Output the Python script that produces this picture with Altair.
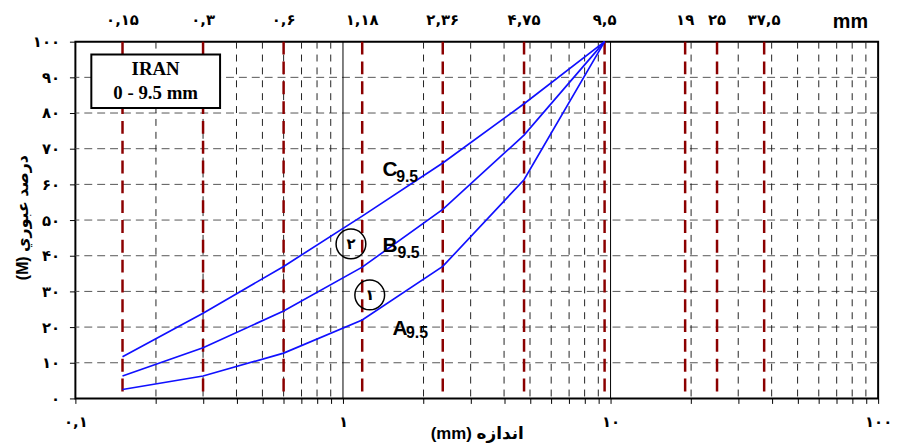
import altair as alt
import pandas as pd

# ---- data ----
sieves = [0.15, 0.3, 0.6, 1.18, 2.36, 4.75, 9.5]
pass_a = [2.5, 6.3, 12.7, 22.0, 37.0, 61.3, 100]
pass_b = [6.3, 14.2, 24.5, 36.8, 53.0, 73.8, 100]
pass_c = [11.7, 23.9, 37.0, 51.1, 66.0, 82.6, 100]

sieve_lines = [0.15, 0.3, 0.6, 1.18, 2.36, 4.75, 9.5, 19, 25, 37.5]
sieve_labels = ["۰,۱۵", "۰,۳", "۰,۶", "۱,۱۸", "۲,۳۶", "۴,۷۵", "۹,۵", "۱۹", "۲۵", "۳۷,۵"]

x_ticks = [0.1, 0.2, 0.3, 0.4, 0.5, 0.6, 0.7, 0.8, 0.9,
           1, 2, 3, 4, 5, 6, 7, 8, 9,
           10, 20, 30, 40, 50, 60, 70, 80, 90, 100]
x_tick_labels = {0.1: "۰,۱", 1: "۱", 10: "۱۰", 100: "۱۰۰"}
x_grid_minor = [0.2, 0.3, 0.4, 0.5, 0.6, 0.7, 0.8, 0.9,
                2, 3, 4, 5, 6, 7, 8, 9,
                20, 30, 40, 50, 60, 70, 80, 90]
x_grid_major = [1, 10]

y_ticks = [0, 10, 20, 30, 40, 50, 60, 70, 80, 90, 100]
y_tick_labels = ["۰", "۱۰", "۲۰", "۳۰", "۴۰", "۵۰", "۶۰", "۷۰", "۸۰", "۹۰", "۱۰۰"]
y_grid = [10, 20, 30, 40, 50, 60, 70, 80, 90]

curve_letters = ["C", "B", "A"]
letter_x = [1.406, 1.406, 1.532]
letter_y = [63.9, 42.8, 19.4]
sub_text = ["9.5", "9.5", "9.5"]
sub_x = [1.58, 1.60, 1.72]
sub_y = [62.0, 40.8, 18.2]

circle_text = ["۲", "۱"]
circle_x = [1.071, 1.259]
circle_y = [43.3, 29.0]

box_lines = ["IRAN", "0 - 9.5 mm"]
box_text_x = [0.1995, 0.1995]
box_text_y = [92.2, 85.6]
box_x, box_x2, box_y, box_y2 = [0.1147], [0.3473], [96.4], [81.4]

# ---- tables ----
curves = pd.DataFrame({
    "x": sieves * 3,
    "y": pass_a + pass_b + pass_c,
    "curve": ["A"] * 7 + ["B"] * 7 + ["C"] * 7,
})
red_df = pd.DataFrame({"x": sieve_lines, "label": sieve_labels})
gmin_df = pd.DataFrame({"x": x_grid_minor})
gmaj_df = pd.DataFrame({"x": x_grid_major})
gy_df = pd.DataFrame({"y": y_grid})
let_df = pd.DataFrame({"x": letter_x, "y": letter_y, "t": curve_letters})
sub_df = pd.DataFrame({"x": sub_x, "y": sub_y, "t": sub_text})
circ_df = pd.DataFrame({"x": circle_x, "y": circle_y, "t": circle_text})
box_df = pd.DataFrame({"x": box_x, "x2": box_x2, "y": box_y, "y2": box_y2})
boxt_df = pd.DataFrame({"x": box_text_x, "y": box_text_y, "t": box_lines})

xs = alt.Scale(type="log", domain=[0.1, 100])
ys = alt.Scale(domain=[0, 100])

x_expr = "''"
for v in reversed(x_ticks):
    if v in x_tick_labels:
        x_expr = f"datum.value == {v} ? '{x_tick_labels[v]}' : {x_expr}"
y_expr = "''"
for v, l in reversed(list(zip(y_ticks, y_tick_labels))):
    y_expr = f"datum.value == {v} ? '{l}' : {y_expr}"

AX_FONT = "DejaVu Sans"
TITLE_FONT = "Liberation Sans, DejaVu Sans"

x_axis = alt.Axis(values=x_ticks, labelExpr=x_expr, grid=False, domain=False,
                  tickSize=5, tickColor="black", tickWidth=1,
                  labelFont=AX_FONT, labelFontSize=15, labelFontWeight="bold",
                  labelColor="black", labelPadding=11, labelFlush=False,
                  labelOverlap=False,
                  title="(mm) اندازه", titleFont=TITLE_FONT, titleFontSize=17,
                  titleFontWeight="bold", titleColor="black",
                  titleX=405, titleY=35, titleBaseline="middle")
y_axis = alt.Axis(values=y_ticks, labelExpr=y_expr, grid=False, domain=False,
                  tickSize=6, tickColor="black", tickWidth=1,
                  labelFont=AX_FONT, labelFontSize=15, labelFontWeight="bold",
                  labelColor="black", labelPadding=10, labelOverlap=False,
                  title="(M) درصد عبوري", titleFont=TITLE_FONT, titleFontSize=16,
                  titleFontWeight="bold", titleColor="black",
                  titleX=-53, titleY=177, titleAngle=-90,
                  titleAlign="center", titleBaseline="middle")


def X():
    return alt.X("x:Q", scale=xs, axis=x_axis, title="(mm) اندازه")


def Y():
    return alt.Y("y:Q", scale=ys, axis=y_axis, title="(M) درصد عبوري")


grid_h = alt.Chart(gy_df).mark_rule(color="#555555", strokeWidth=1, strokeDash=[8, 5]).encode(
    y=Y(),
)
grid_vmin = alt.Chart(gmin_df).mark_rule(color="#222222", strokeWidth=1, strokeDash=[7, 6]).encode(
    x=X(),
)
grid_vmaj = alt.Chart(gmaj_df).mark_rule(color="black", strokeWidth=1).encode(
    x=X(),
)
red = alt.Chart(red_df).mark_rule(color="#8b0000", strokeWidth=2.5, strokeDash=[13, 7]).encode(
    x=X(),
)
top_labels = alt.Chart(red_df).mark_text(font=AX_FONT, fontSize=15, fontWeight="bold",
                                          color="black", baseline="middle").encode(
    x=X(),
    y=alt.value(-22),
    text="label:N",
)
mm = alt.Chart(pd.DataFrame({"t": ["mm"]})).mark_text(
    font="Liberation Sans", fontSize=20, fontWeight="bold", color="black",
    baseline="alphabetic").encode(x=alt.value(782), y=alt.value(-14), text="t:N")

lines = alt.Chart(curves).mark_line(color="#1010ff", strokeWidth=1.7).encode(
    x=X(), y=Y(), detail="curve:N",
)
letters = alt.Chart(let_df).mark_text(font="Liberation Sans", fontSize=21, fontWeight="bold",
                                       color="black", align="left", baseline="middle").encode(
    x=X(), y=Y(), text="t:N")
subs = alt.Chart(sub_df).mark_text(font="Liberation Sans", fontSize=16, fontWeight="bold",
                                    color="black", align="left", baseline="middle").encode(
    x=X(), y=Y(), text="t:N")
circles = alt.Chart(circ_df).mark_point(shape="circle", size=900, filled=False,
                                         color="black", strokeWidth=1.5, opacity=1).encode(
    x=X(), y=Y())
circ_t = alt.Chart(circ_df).mark_text(font=AX_FONT, fontSize=15, fontWeight="bold",
                                       color="black", baseline="middle").encode(
    x=X(), y=Y(), text="t:N")
box = alt.Chart(box_df).mark_rect(fill="white", stroke="black", strokeWidth=2).encode(
    x=X(), x2="x2:Q", y=Y(), y2="y2:Q")
box_t = alt.Chart(boxt_df).mark_text(font="Liberation Serif", fontSize=19, fontWeight="bold",
                                      color="black", baseline="middle").encode(
    x=X(), y=Y(), text="t:N")

chart = alt.layer(
    grid_h, grid_vmin, grid_vmaj, red, lines, box, box_t,
    letters, subs, circles, circ_t, top_labels, mm,
).properties(
    width=810, height=360,
    autosize=alt.AutoSizeParams(type="none"),
    padding={"left": 68, "top": 32, "right": 15, "bottom": 44},
    background="white",
).configure_view(stroke="black", strokeWidth=2)

chart.save("out.html", embed_options={"renderer": "svg", "actions": False})
